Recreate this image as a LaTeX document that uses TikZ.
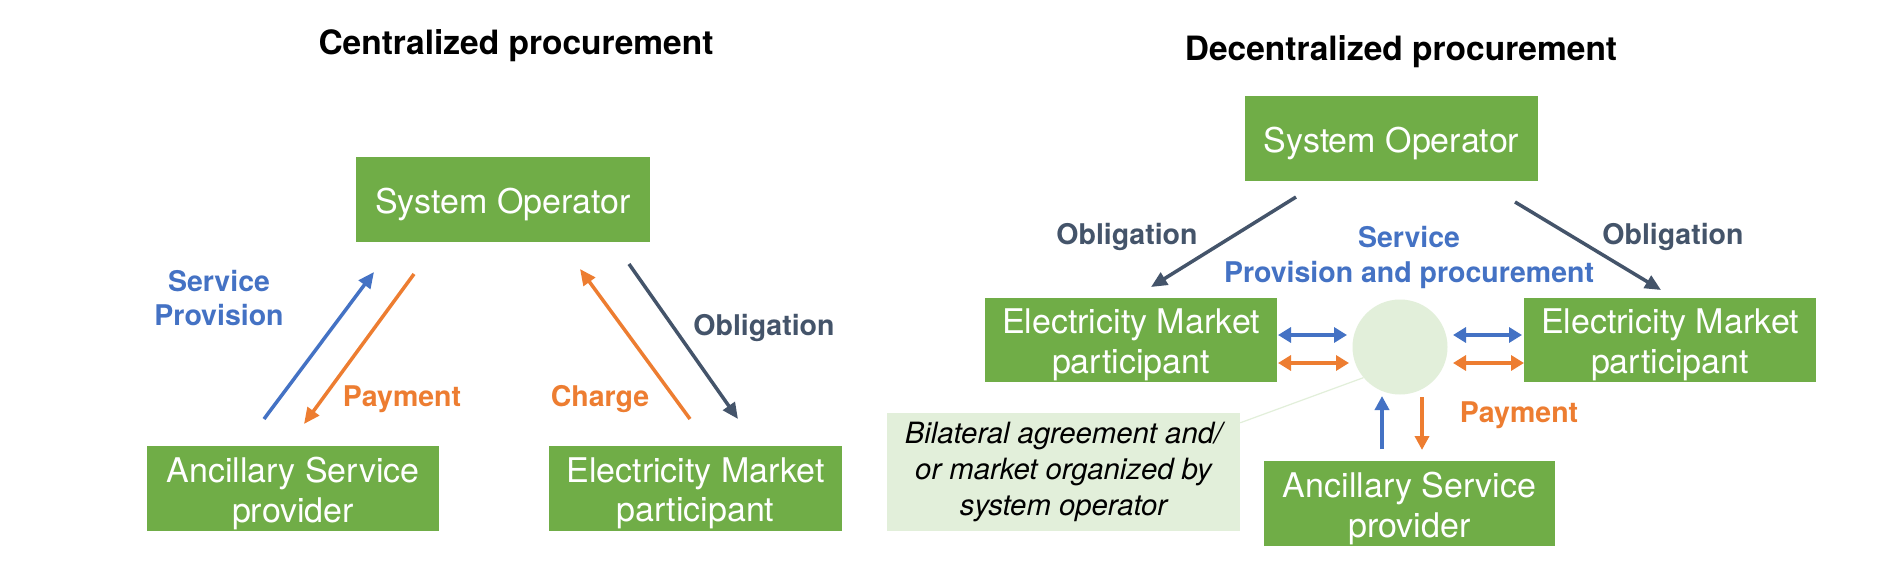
\documentclass[tikz,border=0pt]{standalone}
\usepackage{fontspec}
\setmainfont{TeX Gyre Heros}
\usetikzlibrary{arrows.meta}
\definecolor{boxgreen}{HTML}{70AD47}
\definecolor{lightgreen}{HTML}{E2EFDA}
\definecolor{myblue}{HTML}{4472C4}
\definecolor{myorange}{HTML}{ED7D31}
\definecolor{mydark}{HTML}{44546A}
\begin{document}
\begin{tikzpicture}[x=1pt,y=-1pt,
  gbox/.style={fill=boxgreen,inner sep=0pt,
    minimum width=293pt,minimum height=85pt},
  btxt/.style={text=white,inner sep=0pt,align=center,font=\fontsize{34}{39.5}\selectfont},
  ttl/.style={font=\bfseries\fontsize{33.5}{38}\selectfont,text=black},
  lbl/.style={font=\bfseries\fontsize{28.5}{34}\selectfont,align=center,inner sep=0pt},
  diag/.style={line width=3.5pt,-{Triangle[length=16pt,width=14pt]}},
  dbl/.style={line width=4pt,{Triangle[length=13pt,width=15pt]}-{Triangle[length=13pt,width=15pt]}},
  vert/.style={line width=3.8pt,-{Triangle[length=14pt,width=14pt]}}
]
\useasboundingbox (0,0) rectangle (1894,564);
\fill[white] (0,0) rectangle (1894,564);

% ---------- Left: centralized ----------
\node[ttl] (t1) at (516,46) {Centralized procurement};
\node[gbox,minimum width=294pt] (so1) at (503,199.5) {};
\node[btxt] (so1t) at ([yshift=-5pt]so1.center) {System Operator};
\node[gbox,minimum width=292pt] (as1) at (293,488.5) {};
\node[btxt] (as1t) at ([yshift=-5pt]as1.center) {Ancillary Service\\provider};
\node[gbox] (em1) at (695.5,488.5) {};
\node[btxt] (em1t) at ([yshift=-5pt]em1.center) {Electricity Market\\participant};

\coordinate (sp1s) at (264,419); \coordinate (sp1e) at (374,272);
\coordinate (pa1s) at (414,274); \coordinate (pa1e) at (304,424);
\coordinate (ch1s) at (690,419); \coordinate (ch1e) at (580,269);
\coordinate (ob1s) at (629,264); \coordinate (ob1e) at (738,419);
\draw[diag,myblue] (sp1s) -- (sp1e);
\draw[diag,myorange] (pa1s) -- (pa1e);
\draw[diag,myorange] (ch1s) -- (ch1e);
\draw[diag,mydark] (ob1s) -- (ob1e);

\node[lbl,text=myblue] (lsp) at (219,298) {Service\\Provision};
\node[lbl,text=myorange] (lpa) at (402,399) {Payment};
\node[lbl,text=myorange] (lch) at (600,399) {Charge};
\node[lbl,text=mydark] (lob) at (764,328) {Obligation};

% ---------- Right: decentralized ----------
\node[ttl] (t2) at (1401,52) {Decentralized procurement};
\node[gbox] (so2) at (1391.5,138.5) {};
\node[btxt] (so2t) at ([yshift=-5pt]so2.center) {System Operator};
\node[gbox,minimum width=292pt,minimum height=84pt] (eml) at (1131,340) {};
\node[btxt] (emlt) at ([yshift=-5pt]eml.center) {Electricity Market\\participant};
\node[gbox,minimum width=292pt,minimum height=84pt] (emr) at (1670,340) {};
\node[btxt] (emrt) at ([yshift=-5pt]emr.center) {Electricity Market\\participant};
\node[gbox,minimum width=291pt] (as2) at (1409.5,503.5) {};
\node[btxt] (as2t) at ([yshift=-5pt]as2.center) {Ancillary Service\\provider};
\node[circle,fill=lightgreen,minimum size=95pt,inner sep=0pt] (mk) at (1400,347) {};
\node[fill=lightgreen,minimum width=353pt,minimum height=118pt,inner sep=0pt,align=center,
  font=\itshape\fontsize{29.3}{36}\selectfont] (bil) at (1063.5,472)
  {Bilateral agreement and/\\or market organized by\\system operator};
\draw[lightgreen,line width=1.2pt] (bil.north east) ++(0,10) -- (mk.220);

\coordinate (obls) at (1296,197); \coordinate (oble) at (1151,287);
\coordinate (obrs) at (1515,202); \coordinate (obre) at (1661,290);
\draw[diag,mydark] (obls) -- (oble);
\draw[diag,mydark] (obrs) -- (obre);

\coordinate (b1s) at (1278,335); \coordinate (b1e) at (1347,335);
\coordinate (o1s) at (1278,363); \coordinate (o1e) at (1349,363);
\coordinate (b2s) at (1453,335); \coordinate (b2e) at (1522,335);
\coordinate (o2s) at (1453,363); \coordinate (o2e) at (1524,363);
\draw[dbl,myblue] (b1s) -- (b1e);
\draw[dbl,myorange] (o1s) -- (o1e);
\draw[dbl,myblue] (b2s) -- (b2e);
\draw[dbl,myorange] (o2s) -- (o2e);

\coordinate (vbs) at (1382,449); \coordinate (vbe) at (1382,396);
\coordinate (vos) at (1422,397); \coordinate (voe) at (1422,450);
\draw[vert,myblue] (vbs) -- (vbe);
\draw[vert,myorange] (vos) -- (voe);

\node[lbl,text=mydark] (lobl) at (1127,237) {Obligation};
\node[lbl,text=mydark] (lobr) at (1673,237) {Obligation};
\node[lbl,text=myblue,font=\bfseries\fontsize{28.5}{35}\selectfont] (lsv) at (1409,257.5) {Service\\Provision and procurement};
\node[lbl,text=myorange] (lpa2) at (1519,415) {Payment};
\end{tikzpicture}
\end{document}
